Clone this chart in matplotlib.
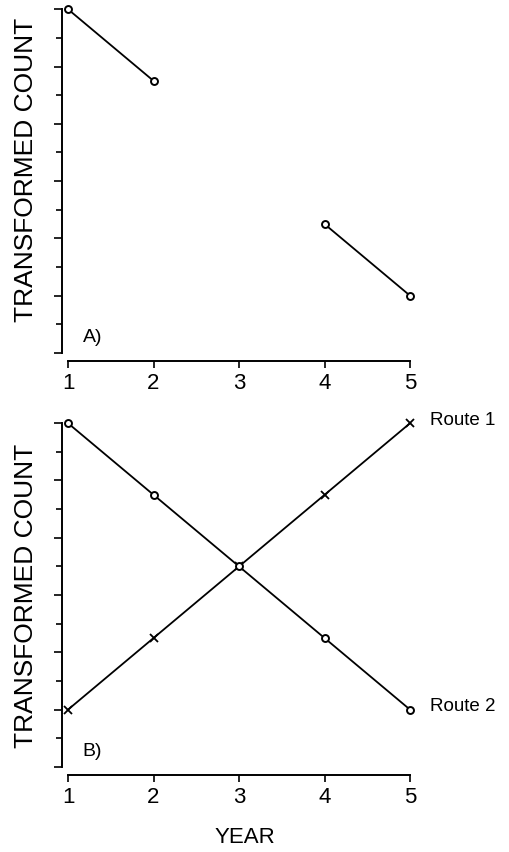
import numpy as np
import matplotlib
matplotlib.use("Agg")
import matplotlib.pyplot as plt
import matplotlib.ticker as ticker

plt.rcParams['font.family'] = ['Liberation Sans', 'DejaVu Sans']

# data
years = [1, 2, 3, 4, 5]
count_a = [6.0, 4.75, np.nan, 2.25, 1.0]   # panel A, year 3 missing
route1 = [1.0, 2.25, 3.5, 4.75, 6.0]       # x markers
route2 = [6.0, 4.75, 3.5, 2.25, 1.0]       # open circles
year_labels = ["1", "2", "3", "4", "5"]

fig = plt.figure(figsize=(5.10, 8.53), dpi=100)

ax_a = fig.add_axes([0.1216, 0.585, 0.716, 0.403])
ax_b = fig.add_axes([0.1216, 0.0997, 0.716, 0.403])


def style_axes(ax, lab_y):
    ax.set_xlim(0.93, 5.2)
    ax.set_ylim(0, 6)
    for s in ['top', 'right']:
        ax.spines[s].set_visible(False)
    ax.spines['left'].set_bounds(0, 6)
    ax.spines['bottom'].set_bounds(1, 5)
    ax.spines['bottom'].set_position(('outward', 5.5))
    ax.spines['left'].set_linewidth(1.4)
    ax.spines['bottom'].set_linewidth(1.4)
    ax.set_xticks(years)
    ax.set_xticklabels(year_labels)
    ax.yaxis.set_major_locator(ticker.MultipleLocator(1))
    ax.yaxis.set_minor_locator(ticker.MultipleLocator(0.5))
    ax.tick_params(axis='y', which='major', length=6, width=1.2, labelleft=False)
    ax.tick_params(axis='y', which='minor', length=4, width=1.2)
    ax.tick_params(axis='x', which='major', length=5, width=1.2, labelsize=16, pad=3)
    ax.set_ylabel("TRANSFORMED COUNT", fontsize=19)
    ax.yaxis.set_label_coords(-0.066, lab_y)


style_axes(ax_a, 0.535)
style_axes(ax_b, 0.5)

# panel A
ax_a.plot(years, count_a, color='black', lw=1.3, marker='o', ms=5,
          mfc='white', mec='black', mew=1.4, clip_on=False)
ax_a.text(1.17, 0.28, "A)", fontsize=14, ha='left', va='center')

# panel B
ax_b.plot(years, route1, color='black', lw=1.3, marker='x', ms=6,
          mew=1.3, clip_on=False)
ax_b.plot(years, route2, color='black', lw=1.3, marker='o', ms=5,
          mfc='white', mec='black', mew=1.4, clip_on=False)
ax_b.annotate("Route 1", xy=(years[-1], route1[-1]), xytext=(14, 3),
              textcoords='offset points', fontsize=13.5, ha='left', va='center',
              annotation_clip=False)
ax_b.annotate("Route 2", xy=(years[-1], route2[-1]), xytext=(14, 3),
              textcoords='offset points', fontsize=13.5, ha='left', va='center',
              annotation_clip=False)
ax_b.text(1.17, 0.28, "B)", fontsize=14, ha='left', va='center')
ax_b.set_xlabel("YEAR", fontsize=16, labelpad=14)

fig.savefig("out.png", dpi=100)
